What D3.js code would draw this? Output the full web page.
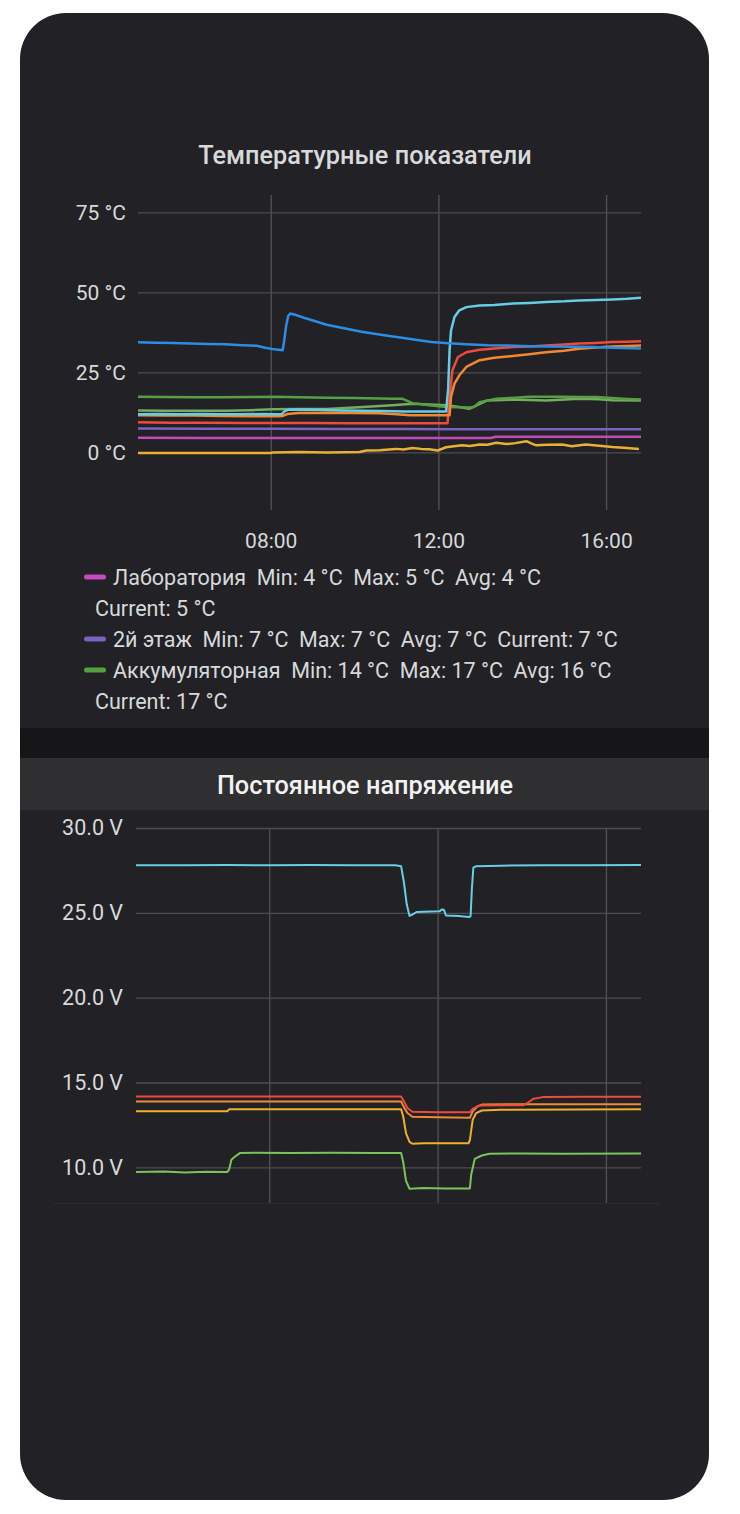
<!DOCTYPE html>
<html><head><meta charset="utf-8">
<script src="https://cdn.jsdelivr.net/npm/d3@7"></script>
<style>
html,body{margin:0;padding:0;background:#ffffff;}
svg{display:block;font-family:Roboto,"Noto Sans",sans-serif;}
</style></head>
<body>
<svg id="c" width="740" height="1514"></svg>
<script>
// ---------- DATA ----------
const timeTicks = ["08:00","12:00","16:00"];
const timeRange = ["04:50","16:50"];
const tempTicks = [0,25,50,75];
const voltTicks = [10,15,20,25,30];

const tBlue = [["04:50",34.4],["05:15",34.3],["05:40",34.2],["06:05",34.0],["06:30",33.9],["06:55",33.8],["07:20",33.5],["07:40",33.3],["07:52",32.7],["08:05",32.2],["08:17",31.9],["08:19",34.5],["08:22",39.5],["08:25",42.6],["08:28",43.4],["08:35",43.0],["08:50",41.9],["09:05",40.9],["09:20",39.9],["09:45",38.8],["10:10",37.7],["10:40",36.7],["11:05",35.9],["11:30",35.1],["11:50",34.5],["12:15",34.1],["12:40",33.8],["13:10",33.5],["13:40",33.4],["14:10",33.2],["14:40",33.1],["15:10",33.0],["15:40",32.9],["16:10",32.7],["16:50",32.5]];
const tCyan = [["04:50",11.9],["05:20",12.0],["05:50",11.9],["06:20",12.0],["06:50",11.9],["07:20",11.9],["07:50",12.0],["08:10",11.9],["08:16",12.0],["08:20",12.9],["08:25",13.3],["08:40",13.4],["09:10",13.3],["09:40",13.1],["10:10",13.0],["10:40",12.9],["11:10",12.8],["11:40",12.8],["12:11",12.8],["12:14",20.0],["12:16",31.9],["12:18",38.0],["12:23",42.3],["12:30",44.4],["12:40",45.4],["12:59",45.9],["13:20",46.1],["13:46",46.5],["14:10",46.7],["14:34",47.0],["15:00",47.2],["15:21",47.5],["15:45",47.6],["16:09",47.8],["16:30",48.0],["16:50",48.3]];
const tRed = [["04:50",9.4],["05:40",9.3],["06:30",9.3],["07:20",9.2],["08:10",9.2],["09:00",9.2],["09:50",9.1],["10:40",9.1],["11:30",9.1],["12:13",9.1],["12:17",19.4],["12:20",25.6],["12:28",29.8],["12:40",31.3],["12:59",32.1],["13:20",32.5],["13:46",32.9],["14:10",33.1],["14:34",33.4],["15:00",33.7],["15:21",34.0],["15:45",34.2],["16:09",34.5],["16:30",34.6],["16:50",34.7]];
const tOrange = [["04:50",11.6],["05:30",11.5],["06:10",11.5],["06:50",11.4],["07:30",11.3],["08:10",11.3],["08:17",11.4],["08:24",12.0],["08:40",12.3],["09:20",12.4],["10:00",12.3],["10:36",12.2],["11:00",11.9],["11:20",11.6],["11:50",11.6],["12:16",11.6],["12:18",17.3],["12:23",21.5],["12:30",24.1],["12:40",26.7],["12:59",28.8],["13:20",29.6],["13:46",30.1],["14:10",30.7],["14:34",31.3],["15:00",31.8],["15:21",32.4],["15:45",32.8],["16:09",33.1],["16:50",33.4]];
const tGreen = [["04:50",17.4],["05:30",17.3],["06:10",17.2],["06:50",17.2],["07:30",17.3],["08:05",17.4],["08:40",17.2],["09:20",17.1],["10:00",17.0],["10:54",16.8],["11:08",16.8],["11:23",15.4],["11:47",14.7],["12:11",14.2],["12:44",14.0],["12:51",14.2],["12:59",15.7],["13:23",16.8],["13:50",17.1],["14:10",17.4],["14:40",17.4],["14:57",17.4],["15:20",17.3],["15:46",17.3],["16:09",17.0],["16:30",16.7],["16:50",16.5]];
const tLightGreen = [["04:50",13.1],["05:30",13.0],["06:10",13.0],["06:57",13.0],["07:30",13.2],["08:03",13.5],["08:40",13.6],["09:20",13.6],["10:00",14.0],["10:54",14.7],["11:23",15.2],["11:47",15.0],["12:11",14.7],["12:30",14.2],["12:44",13.6],["12:54",14.6],["13:09",16.2],["13:46",16.5],["14:34",16.2],["15:21",16.8],["15:50",16.6],["16:09",16.3],["16:50",16.2]];
const tPurple = [["04:50",7.5],["06:30",7.4],["08:00",7.4],["09:30",7.3],["11:00",7.3],["12:30",7.2],["14:00",7.2],["15:30",7.2],["16:50",7.2]];
const tMagenta = [["04:50",4.6],["06:30",4.5],["08:00",4.5],["09:30",4.5],["11:00",4.5],["12:30",4.5],["13:15",4.5],["13:22",4.9],["14:30",4.9],["15:40",4.9],["16:50",4.9]];
const tYellow = [["04:50",-0.2],["05:40",-0.2],["06:30",-0.2],["07:20",-0.2],["08:00",-0.2],["08:03",0.0],["08:40",0.1],["09:20",0.0],["10:07",0.1],["10:17",0.6],["10:36",0.7],["10:54",1.0],["11:00",1.1],["11:10",0.9],["11:23",1.4],["11:35",1.1],["11:47",1.0],["11:59",0.6],["12:11",1.6],["12:22",1.9],["12:34",2.2],["12:45",2.0],["12:59",2.5],["13:10",2.4],["13:23",3.0],["13:37",2.6],["13:50",2.9],["14:06",3.5],["14:12",2.9],["14:20",2.2],["14:35",2.4],["14:57",2.5],["15:11",1.9],["15:31",2.5],["15:50",2.1],["16:09",1.7],["16:30",1.4],["16:47",1.1]];

const vCyan = [["04:50",27.8],["06:00",27.8],["07:00",27.82],["08:00",27.8],["09:00",27.82],["10:00",27.8],["11:00",27.8],["11:08",27.75],["11:12",26.8],["11:16",25.5],["11:20",24.82],["11:24",24.9],["11:30",25.05],["11:50",25.08],["12:03",25.1],["12:06",25.2],["12:09",25.18],["12:12",24.85],["12:30",24.82],["12:45",24.75],["12:47",24.8],["12:49",26.5],["12:51",27.66],["12:55",27.75],["13:30",27.78],["14:30",27.8],["15:30",27.8],["16:50",27.82]];
const vRed = [["04:50",14.18],["07:00",14.18],["09:00",14.18],["11:08",14.18],["11:12",13.9],["11:17",13.5],["11:24",13.28],["12:00",13.25],["12:46",13.25],["12:50",13.45],["12:57",13.6],["13:03",13.65],["14:03",13.66],["14:10",13.85],["14:17",14.05],["14:30",14.14],["15:30",14.16],["16:50",14.16]];
const vOrange = [["04:50",13.88],["07:00",13.88],["09:00",13.88],["11:08",13.88],["11:12",13.55],["11:17",13.2],["11:24",12.98],["12:00",12.95],["12:46",12.92],["12:50",13.3],["12:57",13.6],["13:03",13.7],["14:00",13.72],["16:50",13.72]];
const vYellow = [["04:50",13.31],["07:00",13.31],["07:03",13.42],["08:00",13.43],["11:08",13.43],["11:11",13.0],["11:15",12.0],["11:20",11.5],["11:24",11.39],["11:40",11.42],["12:00",11.42],["12:44",11.42],["12:46",11.6],["12:50",12.8],["12:55",13.2],["13:03",13.35],["13:30",13.4],["16:50",13.43]];
const vGreen = [["04:50",9.72],["05:30",9.75],["06:00",9.7],["06:30",9.74],["07:00",9.72],["07:03",9.9],["07:06",10.45],["07:10",10.6],["07:18",10.84],["07:40",10.86],["08:30",10.84],["09:30",10.86],["10:30",10.85],["11:08",10.85],["11:11",10.3],["11:15",9.2],["11:20",8.74],["11:40",8.78],["12:10",8.76],["12:46",8.76],["12:48",9.6],["12:53",10.5],["13:03",10.7],["13:14",10.8],["14:00",10.82],["15:00",10.8],["16:50",10.82]];

const legendNames = ["Лаборатория","2й этаж","Аккумуляторная"];
const legendMin = [4,7,14];
const legendMax = [5,7,17];
const legendAvg = [4,7,16];
const legendCur = [5,7,17];

// ---------- DRAW ----------
const P = s => { const [h,m] = s.split(":").map(Number); return new Date(2024,0,1,h,m); };
const svg = d3.select("#c");

svg.append("rect").attr("x",20).attr("y",13).attr("width",689).attr("height",1487).attr("rx",46).attr("fill","#212126");
svg.append("rect").attr("x",20).attr("y",728).attr("width",689).attr("height",30).attr("fill","#161618");
svg.append("rect").attr("x",20).attr("y",758).attr("width",689).attr("height",52).attr("fill","#2f2f31");
svg.append("line").attr("x1",53).attr("x2",660).attr("y1",1203.5).attr("y2",1203.5).attr("stroke","#2a2a2f").attr("stroke-width",1);

const textCol = "#d8d9da", gridCol = "#4d4d53";

svg.append("text").attr("x",365).attr("y",155).attr("text-anchor","middle").attr("dominant-baseline","central")
  .attr("font-size",25.3).attr("font-weight",500).attr("fill",textCol).text("Температурные показатели");
svg.append("text").attr("x",365).attr("y",785).attr("text-anchor","middle").attr("dominant-baseline","central")
  .attr("font-size",25.3).attr("font-weight",500).attr("fill","#f2f2f2").text("Постоянное напряжение");

function chart(cfg){
  const x = d3.scaleTime().domain(timeRange.map(P)).range([cfg.left, cfg.right]);
  const y = d3.scaleLinear().domain(cfg.yDomain).range([cfg.bottom, cfg.top]);
  const g = svg.append("g");
  g.append("g").attr("transform",`translate(0,${cfg.bottom})`)
    .call(d3.axisBottom(x).tickValues(timeTicks.map(P)).tickSize(-(cfg.bottom-cfg.gridTop)).tickFormat(""))
    .call(a=>a.select(".domain").remove())
    .call(a=>a.selectAll("line").attr("stroke","#525258").attr("stroke-width",1.3));
  g.append("g").attr("transform",`translate(${cfg.left},0)`)
    .call(d3.axisLeft(y).tickValues(cfg.yTicks).tickSize(-(cfg.right-cfg.left)).tickPadding(cfg.labelPad).tickFormat(cfg.fmt))
    .call(a=>a.select(".domain").remove())
    .call(a=>a.selectAll("line").attr("stroke",gridCol).attr("stroke-width",1.3))
    .call(a=>a.selectAll("text").attr("fill",textCol).attr("font-size",cfg.labelSize).attr("font-family","Roboto"));
  if(cfg.xLabels){
    g.append("g").attr("transform",`translate(0,${cfg.xLabelY})`)
      .call(d3.axisBottom(x).tickValues(timeTicks.map(P)).tickSize(0).tickFormat(d3.timeFormat("%H:%M")))
      .call(a=>a.select(".domain").remove())
      .call(a=>a.selectAll("text").attr("fill",textCol).attr("font-size",21).attr("font-family","Roboto"));
  }
  const line = d3.line().x(d=>x(P(d[0]))).y(d=>y(d[1]));
  cfg.series.forEach(s=>{
    g.append("path").datum(s.data).attr("d",line).attr("fill","none").attr("stroke",s.color)
      .attr("stroke-width",cfg.lw).attr("stroke-linejoin","round");
  });
}

chart({left:138,right:641,top:196.4,bottom:510,gridTop:195,yDomain:[-18,80],yTicks:tempTicks,labelPad:12,labelSize:21,lw:2.5,
  fmt:d=>d+" °C", xLabels:true, xLabelY:530,
  series:[
    {data:tYellow,color:"#e9b133"},
    {data:tMagenta,color:"#c24bbb"},
    {data:tPurple,color:"#7b61c2"},
    {data:tLightGreen,color:"#74ad60"},
    {data:tGreen,color:"#55a042"},
    {data:tRed,color:"#ef4a3b"},
    {data:tOrange,color:"#f4882f"},
    {data:tCyan,color:"#66cde6"},
    {data:tBlue,color:"#2c8de4"}
  ]});

chart({left:136,right:641,top:828,bottom:1203,gridTop:828,yDomain:[7.9,30],yTicks:voltTicks,labelPad:13,labelSize:21.5,lw:2,
  fmt:d=>d3.format(".1f")(d)+" V", xLabels:false,
  series:[
    {data:vGreen,color:"#7cc45a"},
    {data:vYellow,color:"#efb02e"},
    {data:vOrange,color:"#f08a34"},
    {data:vRed,color:"#ee4b3c"},
    {data:vCyan,color:"#68cfe6"}
  ]});

// legend
const legColors = ["#c64bbf","#7b61c2","#54a141"];
const legG = svg.append("g").attr("font-size",21.5).attr("fill",textCol);
const sp = "\u00A0\u00A0";
let ly = 577;
const rowH = 31;
legendNames.forEach((n,i)=>{
  legG.append("rect").attr("x",84).attr("y",ly-2.5).attr("width",22).attr("height",5).attr("rx",2.5).attr("fill",legColors[i]);
  const main = `${n}${sp}Min: ${legendMin[i]} °C${sp}Max: ${legendMax[i]} °C${sp}Avg: ${legendAvg[i]} °C`;
  const cur = `Current: ${legendCur[i]} °C`;
  const t = legG.append("text").attr("x",113).attr("y",ly).attr("dominant-baseline","central").text(main + sp + cur);
  if (113 + t.node().getComputedTextLength() > 650) {
    t.text(main);
    ly += rowH;
    legG.append("text").attr("x",95).attr("y",ly).attr("dominant-baseline","central").text(cur);
  }
  ly += rowH;
});
</script>
</body></html>
